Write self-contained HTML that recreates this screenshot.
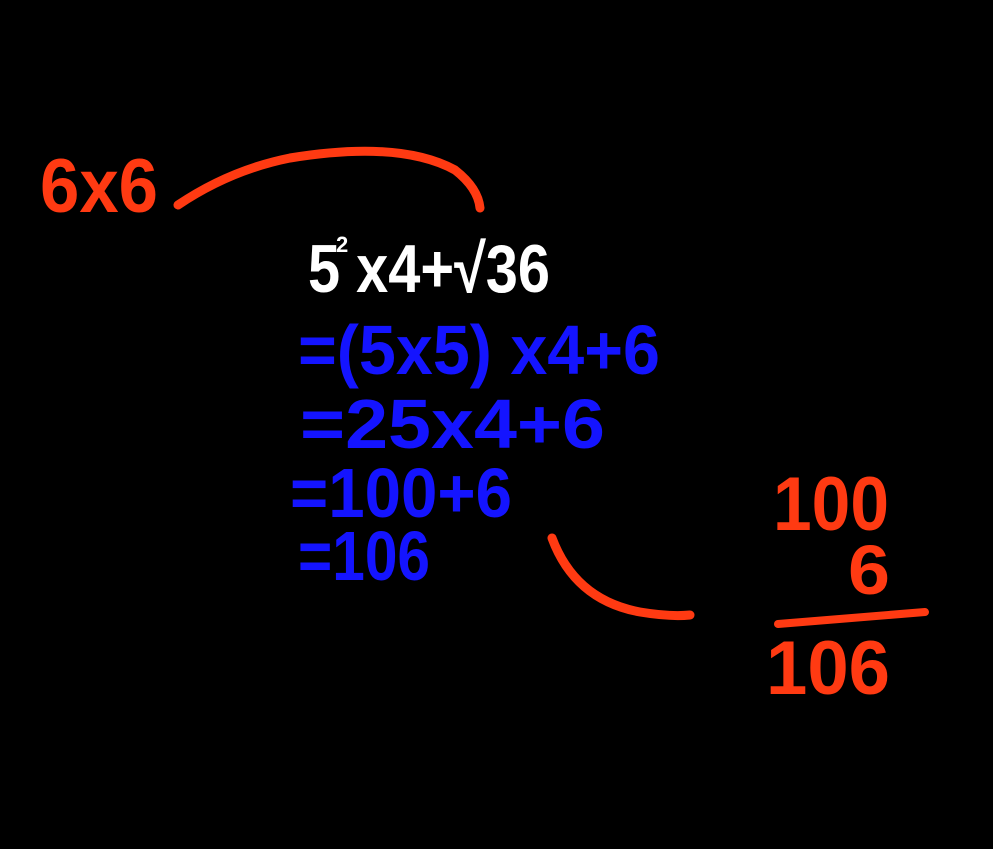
<!DOCTYPE html>
<html><head><meta charset="utf-8"><style>
html,body{margin:0;padding:0;background:#000;width:993px;height:849px;overflow:hidden}
svg{display:block}
text{font-family:"Liberation Sans",sans-serif;font-weight:bold}
</style></head><body>
<svg width="993" height="849" viewBox="0 0 993 849">
<rect width="993" height="849" fill="#000"/>
<text x="40" y="212" font-size="76" fill="#ff3a12" textLength="118" lengthAdjust="spacingAndGlyphs">6x6</text>
<path d="M178 205 Q230 170 290 158 Q400 140 455 170 Q478 188 480 208" stroke="#ff3a12" stroke-width="9" fill="none" stroke-linecap="round"/>
<text x="308" y="292" font-size="68" fill="#fff" textLength="242" lengthAdjust="spacingAndGlyphs">5 x4+√36</text>
<text x="336" y="252" font-size="22" fill="#fff">2</text>
<text x="298" y="374" font-size="70" fill="#1414ff" textLength="362" lengthAdjust="spacingAndGlyphs">=(5x5) x4+6</text>
<text x="300" y="448" font-size="70" fill="#1414ff" textLength="305" lengthAdjust="spacingAndGlyphs">=25x4+6</text>
<text x="290" y="517" font-size="70" fill="#1414ff" textLength="222" lengthAdjust="spacingAndGlyphs">=100+6</text>
<text x="298" y="580" font-size="70" fill="#1414ff" textLength="132" lengthAdjust="spacingAndGlyphs">=106</text>
<path d="M552 538 Q575 600 640 612 Q670 617 690 615" stroke="#ff3a12" stroke-width="9" fill="none" stroke-linecap="round"/>
<text x="773" y="530" font-size="76" fill="#ff3a12" textLength="116" lengthAdjust="spacingAndGlyphs">100</text>
<text x="848" y="594" font-size="70" fill="#ff3a12" textLength="42" lengthAdjust="spacingAndGlyphs">6</text>
<path d="M778 624 L925 612" stroke="#ff3a12" stroke-width="8" stroke-linecap="round"/>
<text x="766" y="694" font-size="76" fill="#ff3a12" textLength="124" lengthAdjust="spacingAndGlyphs">106</text>
</svg>
</body></html>
